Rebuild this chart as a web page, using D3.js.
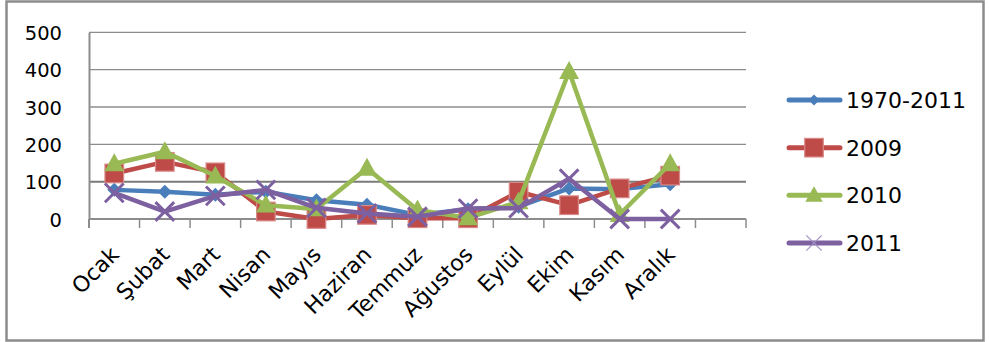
<!DOCTYPE html>
<html>
<head>
<meta charset="utf-8">
<script src="https://cdn.jsdelivr.net/npm/d3@7/dist/d3.min.js"></script>
<style>
  html, body { margin: 0; padding: 0; background: #fff; }
  svg { display: block; }
  text { font-family: "DejaVu Sans", sans-serif; fill: #000; }
</style>
</head>
<body>
<svg id="chart" width="989" height="342"></svg>
<script>
// Monthly values per period
const months = ["Ocak", "Şubat", "Mart", "Nisan", "Mayıs", "Haziran", "Temmuz", "Ağustos", "Eylül", "Ekim", "Kasım", "Aralık"];
const seriesNames = ["1970-2011", "2009", "2010", "2011"];
const values1970_2011 = [78, 73, 65, 73, 50, 38, 11, 26, 33, 82, 80, 93];
const values2009 = [122, 153, 125, 20, 0, 11, 2, 2, 73, 37, 82, 116];
const values2010 = [148, 180, 115, 37, 27, 136, 24, 3, 46, 395, 12, 148];
const values2011 = [70, 20, 62, 78, 30, 15, 6, 28, 29, 108, 0, 0];
const yTicks = [0, 100, 200, 300, 400, 500];

const colors = ["#4a7ebb", "#be4b48", "#98b954", "#7d60a0"];
const markerKinds = ["diamond", "square", "triangle", "cross"];
const seriesValues = [values1970_2011, values2009, values2010, values2011];

const svg = d3.select("#chart");

// Outer frame
svg.append("rect")
  .attr("x", 6.5).attr("y", 1.5).attr("width", 977).attr("height", 339)
  .attr("fill", "#fff").attr("stroke", "#8c8c8c").attr("stroke-width", 2.5);

const plot = { left: 89, right: 746, top: 32.3, bottom: 219 };

// One trailing empty slot after December, as in the category axis
const slots = months.concat([" "]);
const x = d3.scaleBand().domain(slots).range([plot.left, plot.right]);
const y = d3.scaleLinear().domain([0, 500]).range([plot.bottom, plot.top]);

// Horizontal gridlines
svg.append("g").selectAll("line").data(yTicks.filter(t => t > 0)).join("line")
  .attr("x1", plot.left).attr("x2", plot.right)
  .attr("y1", d => y(d)).attr("y2", d => y(d))
  .attr("stroke", d => d === 100 ? "#7a7a7a" : "#8c8c8c")
  .attr("stroke-width", d => d === 100 ? 2 : 1.3);

// Y axis
const yAxis = svg.append("g")
  .attr("transform", `translate(${plot.left},0)`)
  .call(d3.axisLeft(y).tickValues(yTicks).tickSize(0).tickPadding(27));
yAxis.select(".domain").attr("stroke", "#8c8c8c").attr("stroke-width", 2);
yAxis.selectAll("text").style("font-size", "19.5px").attr("dy", "0.36em")
  .attr("font-family", "DejaVu Sans");

// X axis with tick marks at slot boundaries
const xg = svg.append("g").attr("transform", `translate(0,${plot.bottom})`);
xg.append("line").attr("x1", plot.left).attr("x2", plot.right)
  .attr("stroke", "#8c8c8c").attr("stroke-width", 2);
xg.selectAll("line.tick").data(slots).join("line").attr("class", "tick")
  .attr("x1", d => x(d) + x.bandwidth()).attr("x2", d => x(d) + x.bandwidth())
  .attr("y1", 0).attr("y2", 9).attr("stroke", "#8c8c8c").attr("stroke-width", 1.5);
xg.append("line").attr("x1", plot.left).attr("x2", plot.left)
  .attr("y1", 0).attr("y2", 9).attr("stroke", "#8c8c8c").attr("stroke-width", 2);

xg.selectAll("text").data(months).join("text")
  .attr("transform", d => `translate(${x(d) + x.bandwidth() / 2 + 6},${37}) rotate(-45)`)
  .attr("text-anchor", "end")
  .style("font-size", "22px")
  .text(d => d);

// Markers
function drawMarker(g, kind, color, size, thin) {
  if (kind === "diamond") {
    const s = size * 0.5;
    g.append("path").attr("d", `M0,${-s}L${s},0L0,${s}L${-s},0Z`).attr("fill", color);
  } else if (kind === "square") {
    const s = size * 0.62;
    g.append("rect").attr("x", -s).attr("y", -s).attr("width", 2 * s).attr("height", 2 * s)
      .attr("fill", color).attr("stroke", "#d98a88").attr("stroke-width", 1.2);
  } else if (kind === "triangle") {
    const s = size * 0.62;
    g.append("path").attr("d", `M0,${-s * 1.05}L${s},${s * 0.75}L${-s},${s * 0.75}Z`).attr("fill", color);
  } else {
    const s = size * 0.55;
    g.append("path").attr("d", `M${-s},${-s}L${s},${s}M${-s},${s}L${s},${-s}`)
      .attr("stroke", thin ? "#a58fc4" : color).attr("stroke-width", thin ? 1.2 : 3)
      .attr("fill", "none");
  }
}

const line = d3.line()
  .x((d, i) => x(months[i]) + x.bandwidth() / 2)
  .y(d => y(d));

const markerSizes = [14, 15, 16, 17];

seriesValues.forEach((vals, si) => {
  const g = svg.append("g");
  g.append("path").datum(vals).attr("d", line)
    .attr("fill", "none").attr("stroke", colors[si]).attr("stroke-width", 4.5)
    .attr("stroke-linejoin", "round");
  vals.forEach((v, i) => {
    const mg = g.append("g")
      .attr("transform", `translate(${x(months[i]) + x.bandwidth() / 2},${y(v)})`);
    drawMarker(mg, markerKinds[si], colors[si], markerSizes[si], false);
  });
});

// Legend
const legend = svg.append("g");
const legendRow = d3.scalePoint().domain(seriesNames).range([100, 243]);
const legendMarkerSizes = [11, 15, 14, 14];
seriesNames.forEach((name, si) => {
  const row = legend.append("g").attr("transform", `translate(0,${legendRow(name)})`);
  row.append("line").attr("x1", 789).attr("x2", 840)
    .attr("stroke", colors[si]).attr("stroke-width", 5).attr("stroke-linecap", "round");
  const mg = row.append("g").attr("transform", "translate(814,0)");
  drawMarker(mg, markerKinds[si], colors[si], legendMarkerSizes[si], true);
  row.append("text").attr("x", 846).attr("dy", "0.36em")
    .style("font-size", "22px").text(name);
});
</script>
</body>
</html>
